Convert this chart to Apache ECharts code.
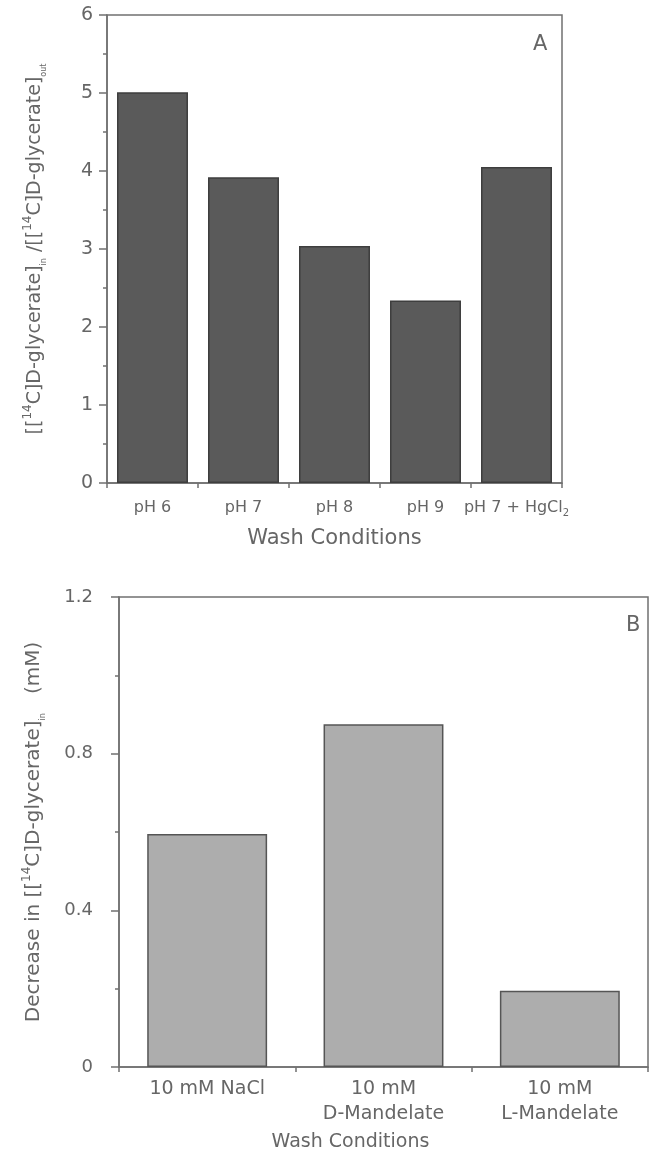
<!DOCTYPE html>
<html>
<head>
<meta charset="utf-8">
<script src="https://cdn.jsdelivr.net/npm/echarts@6/dist/echarts.min.js"></script>
<style>html,body{margin:0;padding:0;background:#fff}#c{width:656px;height:1161px}</style>
</head>
<body>
<div id="c"></div>
<script>
// Panel A
const catsA = ['pH 6', 'pH 7', 'pH 8', 'pH 9', 'pH 7 + HgCl2'];
const valsA = [5.01, 3.92, 3.04, 2.34, 4.05];
// Panel B
const catsB = ['10 mM NaCl', '10 mM\nD-Mandelate', '10 mM\nL-Mandelate'];
const valsB = [0.595, 0.875, 0.195];

const FONT = 'DejaVu Sans';
const TXT = '#666';
const AX = '#707070';

const chart = echarts.init(document.getElementById('c'), null, {renderer: 'canvas'});

function yAxisCommon(){
  return {
    type: 'value',
    axisLine: {show: true, lineStyle: {color: AX, width: 1.5}},
    axisTick: {show: true, length: 8, lineStyle: {color: AX, width: 1.5}},
    minorTick: {show: true, splitNumber: 2, length: 4, lineStyle: {color: AX, width: 1.5}},
    splitLine: {show: false},
    nameLocation: 'middle',
    nameRotate: 90
  };
}

const supStyle = {fontSize: 12, verticalAlign: 'top', color: TXT, fontFamily: FONT, lineHeight: 26};
const subStyle = {fontSize: 8, verticalAlign: 'bottom', color: TXT, fontFamily: FONT, lineHeight: 26};
const nStyle = {fontSize: 19, color: TXT, fontFamily: FONT, lineHeight: 26};
const nStyleB = {fontSize: 20, color: TXT, fontFamily: FONT, lineHeight: 26};

chart.setOption({
  animation: false,
  backgroundColor: '#fff',
  title: [
    {text: 'A', left: 528, top: 29, textStyle: {color: TXT, fontFamily: FONT, fontSize: 21, fontWeight: 'normal'}},
    {text: 'B', left: 621, top: 610, textStyle: {color: TXT, fontFamily: FONT, fontSize: 21, fontWeight: 'normal'}}
  ],
  grid: [
    {left: 107, right: 94, top: 15, bottom: 678, show: true, borderColor: AX, borderWidth: 1.5, backgroundColor: 'transparent'},
    {left: 119, right: 8, top: 597, bottom: 94, show: true, borderColor: AX, borderWidth: 1.5, backgroundColor: 'transparent'}
  ],
  xAxis: [
    {
      type: 'category', gridIndex: 0, data: catsA,
      axisLine: {show: true, lineStyle: {color: AX, width: 1.5}},
      axisTick: {show: true, length: 5, lineStyle: {color: AX, width: 1.5}},
      axisLabel: {
        margin: 15, interval: 0,
        formatter: function(v){ return v.indexOf('HgCl2') >= 0 ? '{n|pH 7 + HgCl}{s|2}' : '{n|' + v + '}'; },
        rich: {n: {fontSize: 16, color: TXT, fontFamily: FONT, lineHeight: 20}, s: {fontSize: 10, color: TXT, fontFamily: FONT, verticalAlign: 'bottom', lineHeight: 20}}
      },
      name: 'Wash Conditions', nameLocation: 'middle', nameGap: 45,
      nameTextStyle: {color: TXT, fontFamily: FONT, fontSize: 21}
    },
    {
      type: 'category', gridIndex: 1, data: catsB,
      axisLine: {show: true, lineStyle: {color: AX, width: 1.5}},
      axisTick: {show: true, length: 5, lineStyle: {color: AX, width: 1.5}},
      axisLabel: {margin: 10, interval: 0, color: TXT, fontFamily: FONT, fontSize: 19, lineHeight: 25},
      name: 'Wash Conditions', nameLocation: 'middle', nameGap: 66,
      nameTextStyle: {color: TXT, fontFamily: FONT, fontSize: 19, padding: [0, 66, 0, 0]}
    }
  ],
  yAxis: [
    Object.assign(yAxisCommon(), {
      gridIndex: 0, min: 0, max: 6, interval: 1,
      axisLabel: {color: TXT, fontFamily: FONT, fontSize: 19, margin: 14},
      name: '{n|[[}{p|14}{n|C]D-glycerate]}{b|in}{n| /[[}{p|14}{n|C]D-glycerate]}{b|out}',
      nameGap: 59,
      nameTextStyle: {rich: {n: nStyle, p: supStyle, b: subStyle}}
    }),
    Object.assign(yAxisCommon(), {
      gridIndex: 1, min: 0, max: 1.2, interval: 0.4,
      axisLabel: {color: TXT, fontFamily: FONT, fontSize: 18, margin: 26, formatter: function(v){ return v === 0 ? '0' : String(Math.round(v*10)/10); }},
      name: '{n|Decrease in [[}{p|14}{n|C]D-glycerate]}{b|in}{n|   (mM)}',
      nameGap: 72,
      nameTextStyle: {rich: {n: nStyleB, p: supStyle, b: subStyle}}
    })
  ],
  series: [
    {
      type: 'bar', xAxisIndex: 0, yAxisIndex: 0, data: valsA, barWidth: '78%',
      itemStyle: {color: '#5a5a5a', borderColor: '#3e3e3e', borderWidth: 1.5}
    },
    {
      type: 'bar', xAxisIndex: 1, yAxisIndex: 1, data: valsB, barWidth: '68%',
      itemStyle: {color: '#adadad', borderColor: '#555', borderWidth: 1.5}
    }
  ]
});
</script>
</body>
</html>
